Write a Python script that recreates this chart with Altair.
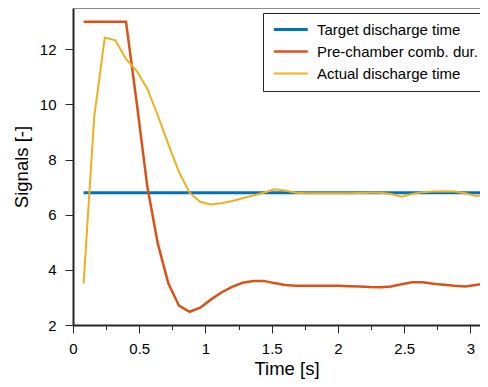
import altair as alt
import pandas as pd

time_s = [0.08, 0.16, 0.24, 0.32, 0.40, 0.48, 0.56, 0.64, 0.72, 0.80,
          0.88, 0.96, 1.04, 1.12, 1.20, 1.28, 1.36, 1.44, 1.52, 1.60,
          1.68, 1.76, 1.84, 1.92, 2.00, 2.08, 2.16, 2.24, 2.32, 2.40,
          2.48, 2.56, 2.64, 2.72, 2.80, 2.88, 2.96, 3.04, 3.12, 3.20]

target = [6.8, 6.8, 6.8, 6.8, 6.8, 6.8, 6.8, 6.8, 6.8, 6.8,
          6.8, 6.8, 6.8, 6.8, 6.8, 6.8, 6.8, 6.8, 6.8, 6.8,
          6.8, 6.8, 6.8, 6.8, 6.8, 6.8, 6.8, 6.8, 6.8, 6.8,
          6.8, 6.8, 6.8, 6.8, 6.8, 6.8, 6.8, 6.8, 6.8, 6.8]

prechamber = [13.0, 13.0, 13.0, 13.0, 13.0, 10.1, 7.05, 4.95, 3.5, 2.7,
              2.48, 2.63, 2.92, 3.18, 3.38, 3.53, 3.6, 3.6, 3.52, 3.45,
              3.42, 3.42, 3.42, 3.42, 3.42, 3.41, 3.4, 3.38, 3.37, 3.4,
              3.48, 3.55, 3.55, 3.5, 3.46, 3.42, 3.4, 3.45, 3.52, 3.56]

actual = [3.5, 9.55, 12.43, 12.33, 11.65, 11.22, 10.58, 9.6, 8.55, 7.55,
          6.8, 6.47, 6.37, 6.42, 6.5, 6.6, 6.7, 6.8, 6.92, 6.88,
          6.8, 6.78, 6.78, 6.78, 6.78, 6.78, 6.79, 6.8, 6.8, 6.75,
          6.65, 6.75, 6.82, 6.84, 6.85, 6.84, 6.78, 6.68, 6.73, 6.76]

series_names = ["Target discharge time", "Pre-chamber comb. dur.", "Actual discharge time"]
series_colors = ["#0072BD", "#D95319", "#EDB120"]
series_widths = [3, 2, 2]

x_ticks = [0, 0.25, 0.5, 0.75, 1, 1.25, 1.5, 1.75, 2, 2.25, 2.5, 2.75, 3]
y_ticks = [2, 3, 4, 5, 6, 7, 8, 9, 10, 11, 12, 13]

rows = []
for name, vals in zip(series_names, [target, prechamber, actual]):
    for t, v in zip(time_s, vals):
        rows.append({"Time": t, "Value": v, "Series": name})
df = pd.DataFrame(rows)

FONT = "Liberation Sans"
AX = "#262626"

legend = alt.Legend(
    title=None, orient="none", legendX=190, legendY=5,
    symbolType="M-1,0H5", symbolSize=128, symbolStrokeWidth=2.5,
    labelFontSize=15, labelFont=FONT, labelColor="#000000", labelLimit=400,
    labelOffset=30, rowPadding=6, padding=9,
    strokeColor=AX, fillColor="#ffffff", cornerRadius=0,
)

x_major = "abs(datum.value*2 - round(datum.value*2)) < 0.001"
y_major = "datum.value % 2 == 0"

x_scale = alt.Scale(domain=[0, 3.072], nice=False, zero=False)
y_scale = alt.Scale(domain=[2, 13.5], nice=False, zero=False)

lines = alt.Chart(df).mark_line(clip=True).encode(
    x=alt.X("Time:Q", scale=x_scale,
            axis=alt.Axis(title="Time [s]", values=x_ticks, orient="bottom",
                          labelExpr=f"{x_major} ? '' + datum.value : ''",
                          tickSize={"condition": {"test": x_major, "value": 8}, "value": 4.5},
                          labelFlush=False, labelOverlap=False, labelPadding=8,
                          titleX=213.5, titlePadding=3)),
    y=alt.Y("Value:Q", scale=y_scale,
            axis=alt.Axis(title="Signals [-]", values=y_ticks,
                          labelExpr=f"{y_major} ? '' + datum.value : ''",
                          tickSize={"condition": {"test": y_major, "value": 8}, "value": 4.5},
                          labelFlush=False, labelOverlap=False, labelPadding=9,
                          titlePadding=8)),
    color=alt.Color("Series:N", scale=alt.Scale(domain=series_names, range=series_colors),
                    legend=legend),
    strokeWidth=alt.StrokeWidth("Series:N", scale=alt.Scale(domain=series_names, range=series_widths),
                                legend=legend),
)

# invisible layer that only carries the thin top frame line (top axis)
frame = alt.Chart(df).mark_line(opacity=0).encode(
    x=alt.X("Time:Q", scale=x_scale,
            axis=alt.Axis(orient="top", title=None, labels=False, ticks=False,
                          domainColor="#8c8c8c", domainWidth=1)),
    y=alt.Y("Value:Q", scale=y_scale),
    detail="Series:N",
)

chart = alt.layer(lines, frame).resolve_axis(x="independent").properties(
    width=407, height=317,
    autosize=alt.AutoSizeParams(type="none"),
    padding={"left": 65, "top": 0, "right": 0, "bottom": 54},
).configure_view(
    stroke=None
).configure_axis(
    grid=False, domainColor=AX, domainWidth=2, tickColor=AX, tickWidth=1,
    labelFont=FONT, labelFontSize=15, labelColor="#000000",
    titleFont=FONT, titleFontSize=18.5, titleFontWeight="normal", titleColor="#000000",
)

chart.save("out.html", embed_options={"renderer": "svg", "actions": False})
